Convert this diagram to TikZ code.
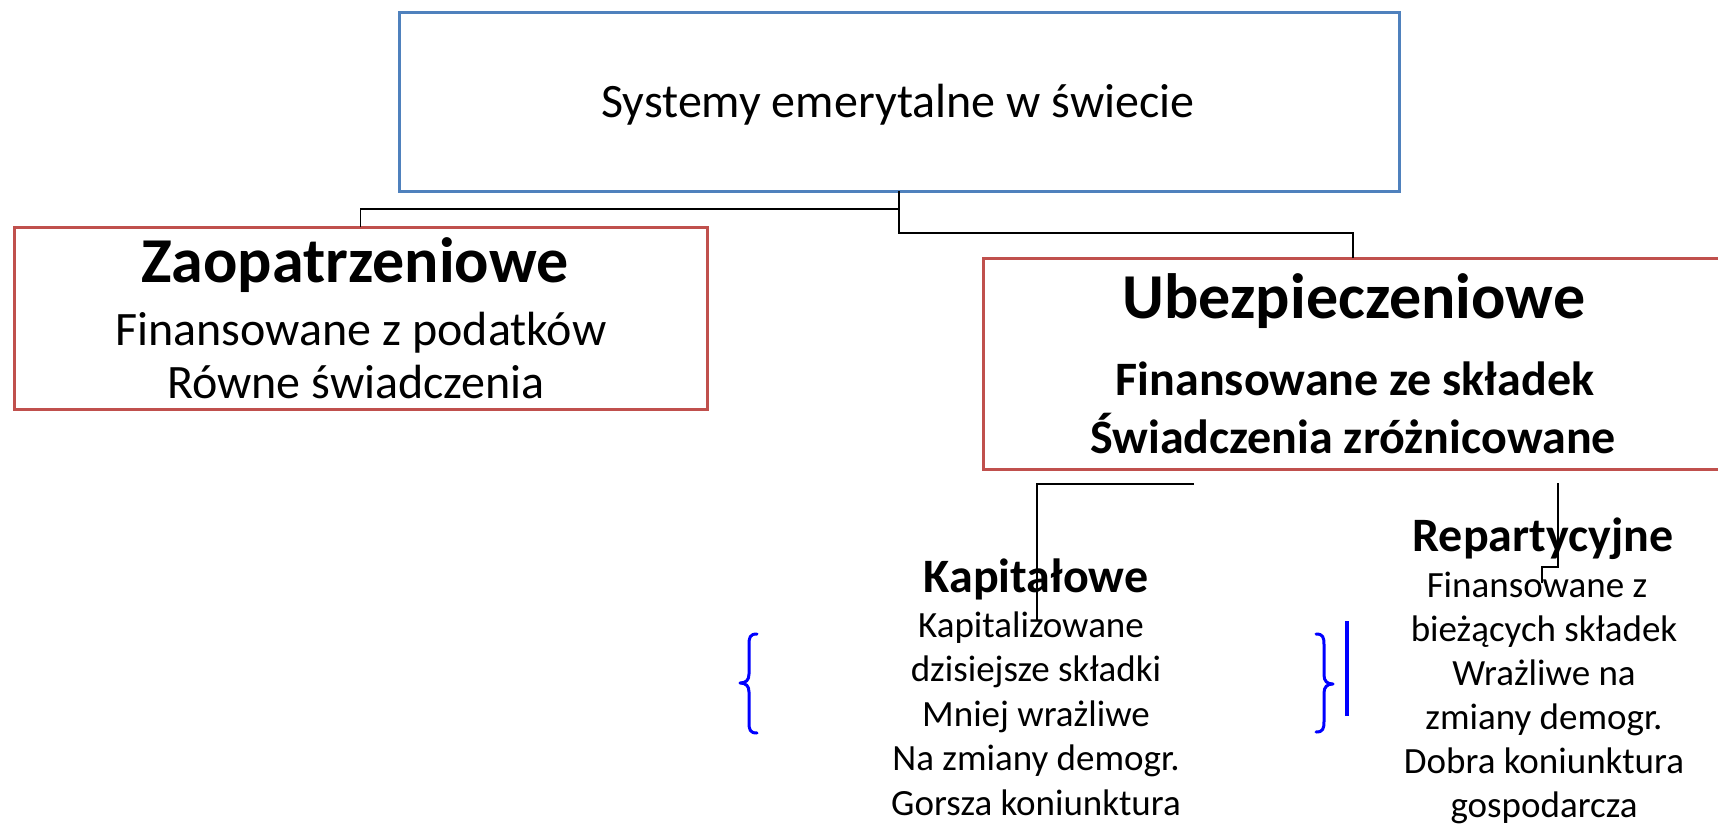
\documentclass[tikz,border=0pt]{standalone}
\usepackage{fontspec}
\setmainfont{Carlito}
\definecolor{boxblue}{RGB}{79,129,189}
\definecolor{boxred}{RGB}{192,80,77}
\definecolor{markblue}{RGB}{0,0,255}
\tikzset{
  frame/.style={draw, rectangle, line width=3pt, inner sep=0pt, outer sep=0pt},
  conn/.style={draw=black, line width=1.4pt},
  txt/.style={inner sep=0pt, outer sep=0pt, anchor=base},
  bigtxt/.style={txt, font=\fontsize{48}{58}\selectfont},
  hdr/.style={txt, font=\bfseries\fontsize{64}{76}\selectfont},
  bigb/.style={txt, font=\bfseries\fontsize{48}{58}\selectfont},
  body/.style={txt, font=\fontsize{37}{45}\selectfont},
  bracemark/.style={draw=markblue, line width=3pt, line cap=round, line join=round},
}
\begin{document}
\begin{tikzpicture}[x=1pt,y=-1pt]
\useasboundingbox (0,0) rectangle (1718,828);
\clip (0,0) rectangle (1718,828);
\fill[white] (0,0) rectangle (1718,828);

% boxes
\node[frame, draw=boxblue, minimum width=1000pt, minimum height=179pt] (top) at (899,101.5) {};
\node[frame, draw=boxred, minimum width=693pt, minimum height=182pt] (zaop) at (360.5,318) {};
\node[frame, draw=boxred, minimum width=747pt, minimum height=211pt] (ubez) at (1356.5,363.5) {};

% texts
\node[bigtxt] (title) at (898,117) {Systemy emerytalne w świecie};
\node[hdr] (zh) at (355,282) {Zaopatrzeniowe};
\node[bigtxt] (z1) at (361,345) {Finansowane z podatków};
\node[bigtxt] (z2) at (356,398) {Równe świadczenia};
\node[hdr] (uh) at (1354,318) {Ubezpieczeniowe};
\node[bigb] (u1) at (1355,395) {Finansowane ze składek};
\node[bigb] (u2) at (1353,453) {Świadczenia zróżnicowane};

\node[bigb] (kh) at (1036,592) {Kapitałowe};
\node[body] (k1) at (1031,637) {Kapitalizowane};
\node[body] (k2) at (1036,681.5) {dzisiejsze składki};
\node[body] (k3) at (1036,726) {Mniej wrażliwe};
\node[body] (k4) at (1036,770.5) {Na zmiany demogr.};
\node[body] (k5) at (1036,815) {Gorsza koniunktura};

\node[bigb] (rh) at (1543,551) {Repartycyjne};
\node[body] (r1) at (1537,597) {Finansowane z};
\node[body] (r2) at (1544,641) {bieżących składek};
\node[body] (r3) at (1544,685) {Wrażliwe na};
\node[body] (r4) at (1544,729) {zmiany demogr.};
\node[body] (r5) at (1544,773) {Dobra koniunktura};
\node[body] (r6) at (1544,817) {gospodarcza};

% connectors
\coordinate (jl) at (899,209);
\coordinate (jr) at (899,233);
\coordinate (ut) at (1353,258);
\draw[conn] (top.south) -- (jl) -| (zaop.north);
\draw[conn] (jl) -- (jr) -| (ut);

\coordinate (ka) at (1194,484);
\coordinate (kb) at (1037,620);
\draw[conn] (ka) -| (kb);

\coordinate (ra) at (1558,483);
\coordinate (rm) at (1558,567);
\coordinate (rb) at (1542,583);
\draw[conn] (ra) -- (rm) -| (rb);

% blue braces and bar
\draw[bracemark] (757,634) .. controls (750,634) and (749,637) .. (749,645) -- (749,674)
  .. controls (749,680) and (746,683) .. (740,683)
  .. controls (746,683) and (749,686) .. (749,692) -- (749,722)
  .. controls (749,730) and (750,733) .. (757,733);
\draw[bracemark] (1316,634) .. controls (1323,634) and (1324,637) .. (1324,645) -- (1324,675)
  .. controls (1324,681) and (1327,684) .. (1333,684)
  .. controls (1327,684) and (1324,687) .. (1324,693) -- (1324,721)
  .. controls (1324,729) and (1323,732) .. (1316,732);
\draw[draw=markblue, line width=4pt] (1347,621) -- (1347,716);
\end{tikzpicture}
\end{document}
